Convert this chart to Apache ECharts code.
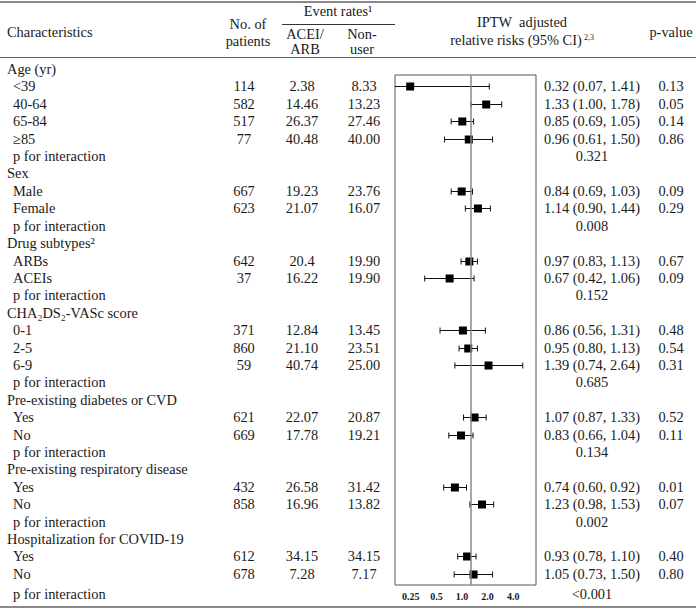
<!DOCTYPE html>
<html>
<head>
<meta charset="utf-8">
<script src="https://cdn.jsdelivr.net/npm/echarts@6/dist/echarts.min.js"></script>
<style>html,body{margin:0;padding:0;background:#fff}#c{width:696px;height:612px}</style>
</head>
<body>
<div id="c"></div>
<script>
// ---------- DATA ----------
const rowLabels = ['Age (yr)','<39','40-64','65-84','≥85','p for interaction',
  'Sex','Male','Female','p for interaction',
  'Drug subtypes²','ARBs','ACEIs','p for interaction',
  'CHA₂DS₂-VASc score','0-1','2-5','6-9','p for interaction',
  'Pre-existing diabetes or CVD','Yes','No','p for interaction',
  'Pre-existing respiratory disease','Yes','No','p for interaction',
  'Hospitalization for COVID-19','Yes','No','p for interaction'];
const headerRows = [0,6,10,14,19,23,27];
const interactionRows = [5,9,13,18,22,26,30];
const pInteraction = ['0.321','0.008','0.152','0.685','0.134','0.002','<0.001'];
const patients = ['','114','582','517','77','', '','667','623','', '','642','37','', '','371','860','59','', '','621','669','', '','432','858','', '','612','678',''];
const rateAcei = ['','2.38','14.46','26.37','40.48','', '','19.23','21.07','', '','20.4','16.22','', '','12.84','21.10','40.74','', '','22.07','17.78','', '','26.58','16.96','', '','34.15','7.28',''];
const rateNonUser = ['','8.33','13.23','27.46','40.00','', '','23.76','16.07','', '','19.90','19.90','', '','13.45','23.51','25.00','', '','20.87','19.21','', '','31.42','13.82','', '','34.15','7.17',''];
const rr     = [null,0.32,1.33,0.85,0.96,null, null,0.84,1.14,null, null,0.97,0.67,null, null,0.86,0.95,1.39,null, null,1.07,0.83,null, null,0.74,1.23,null, null,0.93,1.05,null];
const ciLow  = [null,0.07,1.00,0.69,0.61,null, null,0.69,0.90,null, null,0.83,0.42,null, null,0.56,0.80,0.74,null, null,0.87,0.66,null, null,0.60,0.98,null, null,0.78,0.73,null];
const ciHigh = [null,1.41,1.78,1.05,1.50,null, null,1.03,1.44,null, null,1.13,1.06,null, null,1.31,1.13,2.64,null, null,1.33,1.04,null, null,0.92,1.53,null, null,1.10,1.50,null];
const pValues = ['','0.13','0.05','0.14','0.86','', '','0.09','0.29','', '','0.67','0.09','', '','0.48','0.54','0.31','', '','0.52','0.11','', '','0.01','0.07','', '','0.40','0.80',''];
const tickLabels = ['0.25','0.5','1.0','2.0','4.0'];

// ---------- LAYOUT ----------
const FONT = '"Liberation Serif","Times New Roman",serif';
const FS = 14.4;
const TXT = '#1a1a1a';
const Y0 = 69, DY = 17.41;
function rowY(i){ return Y0 + i*DY + (i === rowLabels.length-1 ? 3 : 0); }
const GRID_TOP = 75, GRID_BOTTOM_Y = 585, GRID_LEFT = 395, GRID_RIGHT_X = 536;

function txt(x, y, text, align, extra){
  const st = Object.assign({text: text, fill: TXT, fontSize: FS, fontFamily: FONT,
    align: align, textAlign: align, verticalAlign: 'middle', textVerticalAlign: 'middle'}, extra||{});
  return {type:'text', x: x, y: y, silent: true, style: st};
}
function line(x1,y1,x2,y2,color,w){
  return {type:'line', silent:true, shape:{x1,y1,x2,y2}, style:{stroke:color, lineWidth:w}};
}

const graphics = [];
// rules
graphics.push(line(0,2,696,2,'#8a8a8a',2));
graphics.push(line(282,24.5,395,24.5,'#333',1));
graphics.push(line(0,57.5,696,57.5,'#666',1));
graphics.push(line(0,607,696,607,'#8a8a8a',2));
// header
graphics.push(txt(7,32,'Characteristics','left'));
graphics.push(txt(248,24,'No. of','center'));
graphics.push(txt(248,41,'patients','center'));
graphics.push(txt(338,11,'Event rates¹','center'));
graphics.push(txt(305,34,'ACEI/','center'));
graphics.push(txt(305,49,'ARB','center'));
graphics.push(txt(362,34,'Non-','center'));
graphics.push(txt(362,49,'user','center'));
graphics.push(txt(522,22,'IPTW  adjusted','center'));
graphics.push(txt(516,40,'relative risks (95% CI)','center'));
graphics.push(txt(584,37,'2,3','left',{fontSize:8}));
graphics.push(txt(671,32,'p-value','center'));
// body
rowLabels.forEach(function(lab,i){
  const isHead = headerRows.indexOf(i) >= 0;
  const y = rowY(i);
  graphics.push(txt(isHead ? 7 : 13, y, lab, 'left'));
  if (patients[i]) graphics.push(txt(244, y, patients[i], 'center'));
  if (rateAcei[i]) graphics.push(txt(302, y, rateAcei[i], 'center'));
  if (rateNonUser[i]) graphics.push(txt(364, y, rateNonUser[i], 'center'));
  if (rr[i] != null) graphics.push(txt(544, y, rr[i].toFixed(2)+' ('+ciLow[i].toFixed(2)+', '+ciHigh[i].toFixed(2)+')', 'left'));
  if (pValues[i]) graphics.push(txt(671, y, pValues[i], 'center'));
  const k = interactionRows.indexOf(i);
  if (k >= 0) graphics.push(txt(592, y, pInteraction[k], 'center'));
});

// forest data
const forestData = [];
rr.forEach(function(v,i){ if (v != null) forestData.push([v, ciLow[i], ciHigh[i], i]); });

const chart = echarts.init(document.getElementById('c'), null, {renderer:'svg', width:696, height:612});
chart.setOption({
  animation: false,
  backgroundColor: '#fff',
  graphic: graphics,
  grid: [
    {left: GRID_LEFT, top: GRID_TOP, width: GRID_RIGHT_X - GRID_LEFT, height: GRID_BOTTOM_Y - GRID_TOP,
     show: true, borderColor: '#555', borderWidth: 1, backgroundColor: 'transparent'},
    {left: 398, top: 586, width: 128, height: 1, show: false}
  ],
  xAxis: [
    {type: 'log', logBase: 2, gridIndex: 0, min: 0.2408, max: 3.384,
     axisLine:{show:false}, axisTick:{show:false}, axisLabel:{show:false}, splitLine:{show:false}},
    {type: 'category', gridIndex: 1, data: tickLabels, position: 'bottom',
     axisLine:{show:false}, axisTick:{show:false}, splitLine:{show:false},
     axisLabel:{show:true, interval:0, margin:4, fontSize:10, fontWeight:'bold', fontFamily:FONT, color:TXT}}
  ],
  yAxis: [
    {type: 'value', gridIndex: 0, inverse: true, min: (GRID_TOP - Y0)/DY, max: (GRID_BOTTOM_Y - Y0)/DY,
     show: false},
    {type: 'value', gridIndex: 1, show: false}
  ],
  series: [{
    type: 'custom',
    xAxisIndex: 0, yAxisIndex: 0,
    clip: true,
    encode: {x: [0,1,2], y: 3},
    data: forestData,
    renderItem: function(params, api){
      const y = api.value(3);
      const pe = api.coord([api.value(0), y]);
      const pl = api.coord([api.value(1), y]);
      const ph = api.coord([api.value(2), y]);
      const cy = Math.round(pe[1]) + 0.5;
      const cap = 3;
      const s = 8;
      return {type:'group', children:[
        {type:'line', shape:{x1:pl[0], y1:cy, x2:ph[0], y2:cy}, style:{stroke:'#111', lineWidth:1}},
        {type:'line', shape:{x1:pl[0], y1:cy-cap, x2:pl[0], y2:cy+cap}, style:{stroke:'#111', lineWidth:1}},
        {type:'line', shape:{x1:ph[0], y1:cy-cap, x2:ph[0], y2:cy+cap}, style:{stroke:'#111', lineWidth:1}},
        {type:'rect', shape:{x:pe[0]-s/2, y:cy-s/2, width:s, height:s}, style:{fill:'#000'}}
      ]};
    },
    markLine: {
      silent: true, symbol: 'none', animation: false,
      label: {show: false},
      lineStyle: {color: '#888', width: 1.5, type: 'solid'},
      data: [{xAxis: 1}]
    },
    z: 3
  }]
});
</script>
</body>
</html>
